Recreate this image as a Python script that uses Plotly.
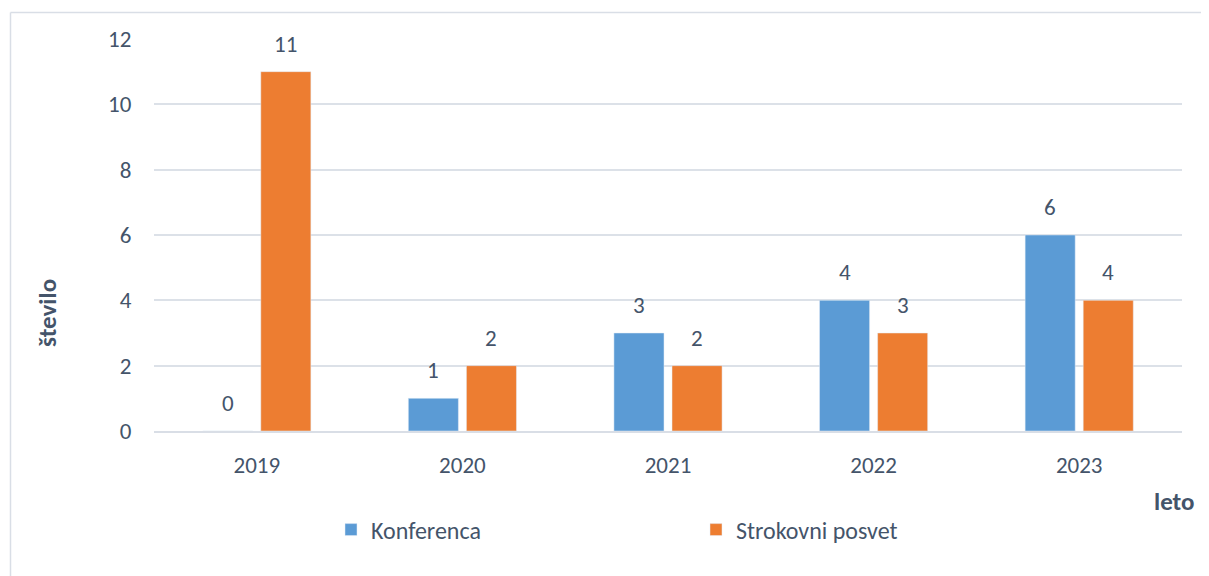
import plotly.graph_objects as go

years = ["2019", "2020", "2021", "2022", "2023"]
konferenca = [0, 1, 3, 4, 6]
strokovni = [11, 2, 2, 3, 4]
series_names = ["Konferenca", "Strokovni posvet"]
y_ticks = [0, 2, 4, 6, 8, 10, 12]

OFF = 8  # page body margin offset
W, H = 1209 - OFF, 576 - OFF
PL, PR, PT, PB = 154, 1182, 39, 431  # plot area in screen px
L, T = PL - OFF, PT - OFF
R, B = W - (PR - OFF), H - (PB - OFF)
pw, ph = W - L - R, H - T - B


def px(x):
    return (x - PL) / pw


def py(y):
    return (PB - y) / ph


FONT = "Calibri, Carlito, Lato, sans-serif"
TXT = "#44546A"
BLUE = "#5B9BD5"
ORANGE = "#ED7D31"

fig = go.Figure()
fig.add_trace(go.Bar(x=years, y=konferenca, name=series_names[0], marker_color=BLUE))
fig.add_trace(go.Bar(x=years, y=strokovni, name=series_names[1], marker_color=ORANGE))

# data labels (category index positions)
for vals, shift in ((konferenca, -29), (strokovni, 29)):
    for i, v in enumerate(vals):
        fig.add_annotation(x=i, y=v, text=str(v), showarrow=False, xshift=shift,
                           yanchor="bottom", yshift=12,
                           font=dict(family=FONT, size=23, color=TXT))

# axis titles
fig.add_annotation(xref="paper", yref="paper", x=px(47), y=py(313),
                   xanchor="center", yanchor="middle",
                   text="<b>število</b>", textangle=-90, showarrow=False,
                   font=dict(family=FONT, size=25, color=TXT))
fig.add_annotation(xref="paper", yref="paper", x=px(1174), y=py(501),
                   xanchor="center", yanchor="middle",
                   text="<b>leto</b>", showarrow=False,
                   font=dict(family=FONT, size=25, color=TXT))

# chart border (top and left edges visible)
fig.add_shape(type="line", xref="paper", yref="paper",
              x0=px(10.5), x1=px(1240), y0=py(12.5), y1=py(12.5),
              line=dict(color="#D9DEE6", width=1.5))
fig.add_shape(type="line", xref="paper", yref="paper",
              x0=px(10.5), x1=px(10.5), y0=py(12.5), y1=py(600),
              line=dict(color="#D9DEE6", width=1.5))

fig.update_layout(
    width=W, height=H,
    margin=dict(l=L, r=R, t=T, b=B, autoexpand=False),
    paper_bgcolor="white", plot_bgcolor="white",
    barmode="group", bargap=0.435, bargroupgap=0.138,
    font=dict(family=FONT, size=23, color=TXT),
    showlegend=True,
    legend=dict(orientation="h", x=px(331), xanchor="left",
                y=py(530), yanchor="middle",
                entrywidth=320, entrywidthmode="pixels",
                font=dict(family=FONT, size=24, color=TXT)),
    xaxis=dict(type="category", range=[-0.5, len(years) - 0.5], showgrid=False,
               showline=True, linecolor="#D9DEE6", linewidth=2,
               ticks="outside", ticklen=12, tickcolor="rgba(0,0,0,0)",
               tickfont=dict(family=FONT, size=23, color=TXT)),
    yaxis=dict(range=[0, 12], tickvals=y_ticks, showgrid=True, gridcolor="#DCE1E8",
               gridwidth=1.5, zeroline=False, showline=False,
               ticks="outside", ticklen=17, tickcolor="rgba(0,0,0,0)",
               tickfont=dict(family=FONT, size=23, color=TXT)),
)

fig.write_html("out.html")
